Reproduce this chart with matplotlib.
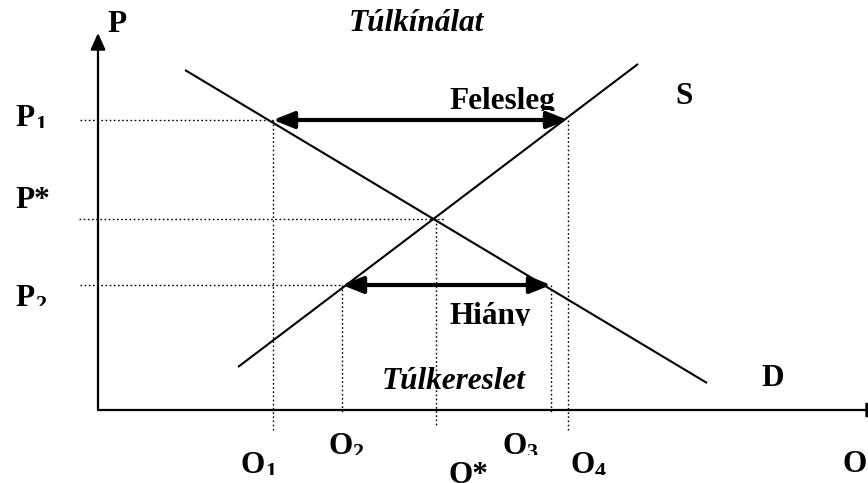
import matplotlib
matplotlib.use("Agg")
import matplotlib.pyplot as plt
from matplotlib.patches import FancyArrowPatch
from matplotlib.transforms import Bbox, TransformedBbox

plt.rcParams['font.family'] = ['Liberation Serif', 'DejaVu Serif']

# ---- data (diagram units, origin at the axes corner) ----
demand_x = [87, 609]
demand_y = [340, 27]
supply_x = [140, 540]
supply_y = [43, 346]
price_levels = {'P1': 290, 'Pstar': 191, 'P2': 125}
quantity_levels = {'Q1': 175, 'Q2': 244, 'Qstar': 338, 'Q3': 453, 'Q4': 470}
x_max = 770
y_max = 377

W, H = 868, 483
fig = plt.figure(figsize=(W / 100, H / 100), dpi=100)
ox, oy = 98, 410
ax = fig.add_axes([ox / W, (H - oy) / H, (W - ox) / W, oy / H])
ax.set_xlim(0, W - ox)
ax.set_ylim(0, oy)
ax.axis('off')

P1, Ps, P2 = price_levels['P1'], price_levels['Pstar'], price_levels['P2']
Q1, Q2, Qs, Q3, Q4 = (quantity_levels[k] for k in ['Q1', 'Q2', 'Qstar', 'Q3', 'Q4'])

# axes with arrows
ax.annotate('', xy=(0, y_max), xytext=(0, 0),
            arrowprops=dict(arrowstyle='-|>,head_length=1.0,head_width=0.45',
                            mutation_scale=10, lw=1.6, color='black',
                            shrinkA=0, shrinkB=0), annotation_clip=False)
ax.annotate('', xy=(x_max + 15, 0), xytext=(0, 0),
            arrowprops=dict(arrowstyle='-|>,head_length=1.0,head_width=0.45',
                            mutation_scale=10, lw=1.6, color='black',
                            shrinkA=0, shrinkB=0), annotation_clip=False)

# demand & supply
ax.plot(demand_x, demand_y, color='black', lw=1.5, solid_capstyle='butt')
ax.plot(supply_x, supply_y, color='black', lw=1.5, solid_capstyle='butt')

# dotted guide lines
dot = dict(color='black', lw=1.0, linestyle=(0, (1.2, 1.8)), clip_on=False)
ax.plot([-18, Q1], [P1, P1], **dot)
ax.plot([-19, Qs + 9], [Ps, Ps], **dot)
ax.plot([-18, Q2], [P2, P2], **dot)
ax.plot([Q1, Q1], [P1, -22], **dot)
ax.plot([Q4, Q4], [P1, -22], **dot)
ax.plot([Q2, Q2], [P2, -3], **dot)
ax.plot([Q3, Q3], [P2, -3], **dot)
ax.plot([Qs, Qs], [Ps, -15], **dot)

# double arrows
for (xa, xb, yv) in [(Q1, Q4, P1), (Q2, Q3, P2)]:
    arr = FancyArrowPatch((xa, yv), (xb, yv),
                          arrowstyle='<|-|>,head_length=1.05,head_width=0.42',
                          mutation_scale=12, lw=3, color='black',
                          shrinkA=0, shrinkB=0)
    ax.add_patch(arr)

FS = 22.5


def clip(t, clip_y):
    bb = TransformedBbox(Bbox.from_extents(-200, clip_y, 1000, 600), ax.transData)
    t.set_clip_box(bb)
    t.set_clip_on(True)


def label(x, y, s, clip_y=None, style='normal', sub=None, sub_dx=0, sub_cut=2):
    t = ax.text(x, y, s, ha='left', va='baseline', fontsize=FS,
                fontweight='bold', fontstyle=style, color='black',
                clip_on=False)
    if clip_y is not None:
        clip(t, clip_y)
    if sub is not None:
        ts = ax.text(x + sub_dx, y - 4, sub, ha='left', va='baseline',
                     fontsize=16, fontweight='bold', color='black',
                     clip_on=False)
        clip(ts, y - sub_cut)
    return t


label(9, 378, 'P')
label(-83, 284, 'P', sub='1', sub_dx=20, sub_cut=2)
label(-83, 202, 'P*')
label(-83, 104, 'P', sub='2', sub_dx=20, sub_cut=0)
label(143, -63, 'O', sub='1', sub_dx=24, sub_cut=2)
label(230, -44, 'O', sub='2', sub_dx=24, sub_cut=1)
label(351, -73, 'O*')
label(404, -44, 'O', sub='3', sub_dx=24, sub_cut=1)
label(473, -63, 'O', sub='4', sub_dx=24, sub_cut=2)
label(745, -62, 'O')
label(577, 306, 'S')
label(664, 24, 'D')
label(351, 301, 'Felesleg', clip_y=299)
label(351, 86, 'Hiány', clip_y=84)
label(251, 379, 'Túlkínálat', style='italic')
label(284, 21, 'Túlkereslet', style='italic')

fig.savefig('out.png', dpi=100)
